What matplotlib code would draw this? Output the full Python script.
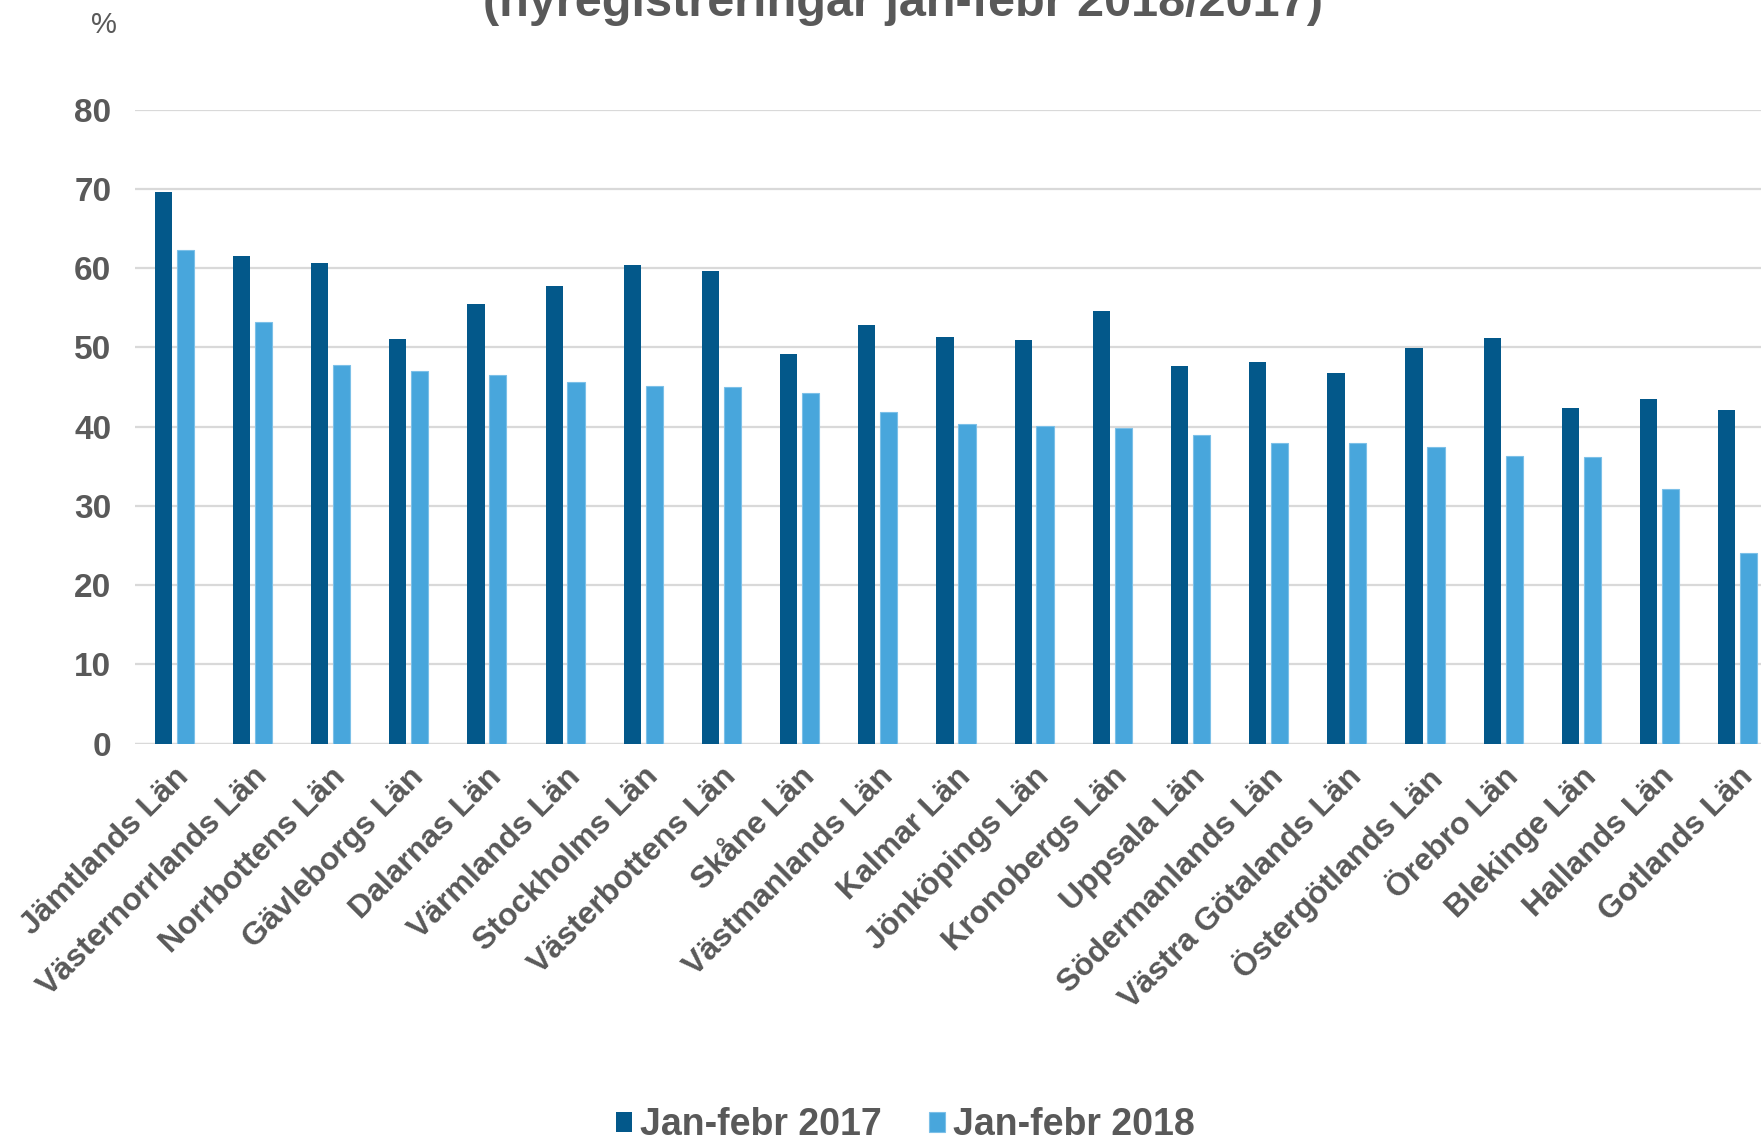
import matplotlib.pyplot as plt
import numpy as np

plt.rcParams["font.family"] = ["Liberation Sans", "DejaVu Sans"]

lan = ["Jämtlands Län", "Västernorrlands Län", "Norrbottens Län", "Gävleborgs Län",
       "Dalarnas Län", "Värmlands Län", "Stockholms Län", "Västerbottens Län",
       "Skåne Län", "Västmanlands Län", "Kalmar Län", "Jönköpings Län",
       "Kronobergs Län", "Uppsala Län", "Södermanlands Län", "Västra Götalands Län",
       "Östergötlands Län", "Örebro Län", "Blekinge Län", "Hallands Län", "Gotlands Län"]
jan_feb_2017 = [69.6, 61.6, 60.7, 51.1, 55.5, 57.7, 60.4, 59.6, 49.2, 52.9, 51.3,
                50.9, 54.6, 47.7, 48.2, 46.8, 49.9, 51.2, 42.4, 43.5, 42.1]
jan_feb_2018 = [62.3, 53.2, 47.8, 47.0, 46.5, 45.7, 45.2, 45.0, 44.3, 41.8, 40.3,
                40.1, 39.9, 39.0, 38.0, 37.9, 37.4, 36.3, 36.2, 32.2, 24.0]

grey = "#595959"
dark = "#03588A"
light = "#48A6DC"

fig = plt.figure(figsize=(17.61, 11.44), dpi=100)
ax = fig.add_axes([0.0767, 0.350, 1.009 - 0.0767, 0.904 - 0.350])

x = np.arange(len(lan))
w = 0.22
ax.bar(x - 0.14, jan_feb_2017, width=w, color=dark, label="Jan-febr 2017", zorder=3)
ax.bar(x + 0.14, jan_feb_2018, width=w, color=light, edgecolor="#7CC0E8",
       linewidth=0.8, label="Jan-febr 2018", zorder=3)

ax.set_xlim(-0.5, len(lan) - 0.5)
ax.set_ylim(0, 80)
ax.set_yticks(range(0, 81, 10))
ax.grid(axis="y", color="#D9D9D9", linewidth=1.6, zorder=0)
for s in ["left", "right", "top", "bottom"]:
    ax.spines[s].set_visible(False)
ax.axhline(0, color="#D9D9D9", linewidth=1.6, zorder=2)

ax.tick_params(axis="y", length=0, pad=17, labelsize=24, labelcolor=grey)
ax.tick_params(axis="x", length=0, pad=13, labelsize=23, labelcolor=grey)
for t in ax.get_yticklabels():
    t.set_fontweight("bold")
ax.set_xticks(x)
ax.set_xticklabels(lan, rotation=45, ha="right", va="top", rotation_mode="anchor",
                   fontweight="bold")

fig.text(0.059, 0.978, "%", fontsize=21, color=grey, ha="center", va="center")
fig.text(0.513, 0.986, "(nyregistreringar jan-febr 2018/2017)", fontsize=35,
         fontweight="bold", color=grey, ha="center", va="baseline")

fig.legend(loc="lower center", bbox_to_anchor=(0.514, -0.029), ncol=2, frameon=False,
           labelcolor=grey, handlelength=0.45, handleheight=0.45,
           handletextpad=0.2, columnspacing=1.25, prop={"weight": "bold", "size": 27})

fig.savefig("out.png", dpi=100)
